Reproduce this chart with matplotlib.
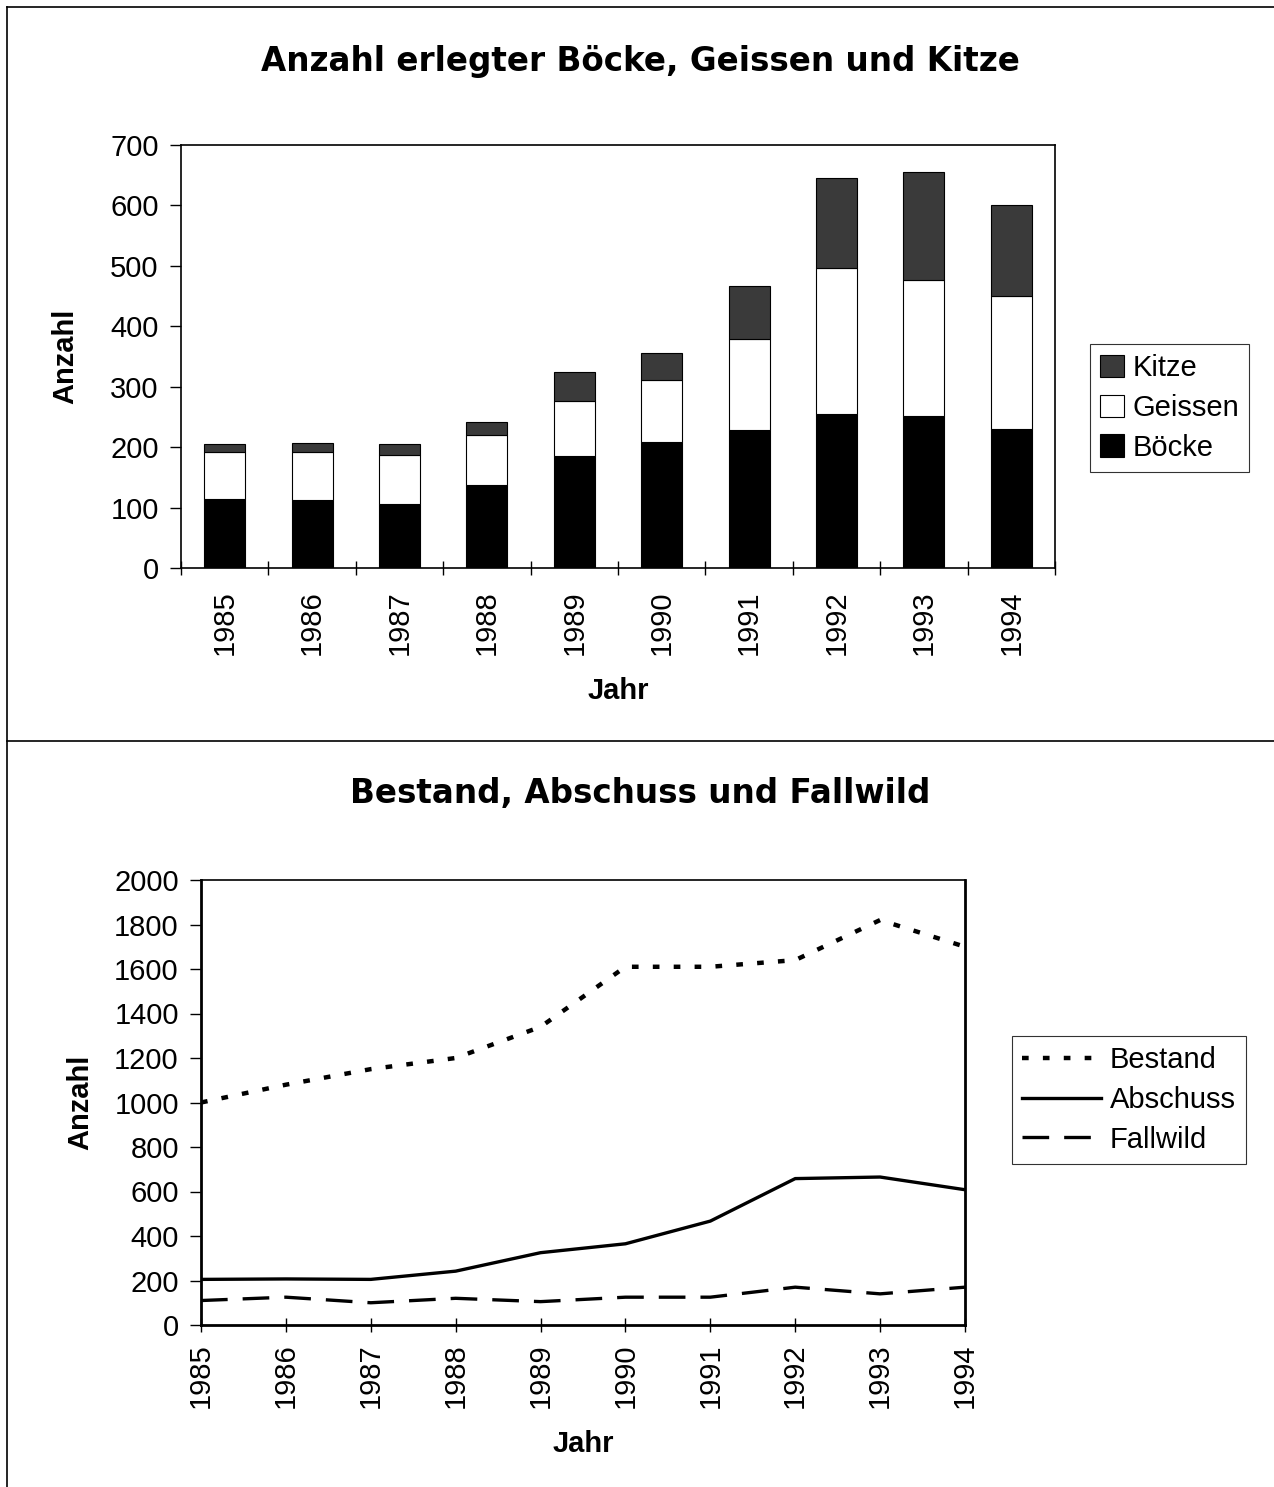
import matplotlib
matplotlib.use("Agg")
import matplotlib.pyplot as plt
import numpy as np
from matplotlib.lines import Line2D

plt.rcParams['font.family'] = ['Liberation Sans', 'DejaVu Sans']

years = ["1985", "1986", "1987", "1988", "1989", "1990", "1991", "1992", "1993", "1994"]
boecke = [115, 113, 106, 137, 185, 208, 228, 255, 252, 230]
geissen = [77, 79, 81, 83, 91, 103, 151, 242, 225, 220]
kitze = [13, 15, 18, 22, 48, 44, 88, 148, 179, 150]

bestand = [1000, 1080, 1150, 1200, 1340, 1610, 1610, 1640, 1820, 1700]
abschuss = [205, 207, 205, 242, 325, 365, 467, 658, 665, 608]
fallwild = [110, 125, 100, 120, 105, 125, 125, 170, 140, 170]

W, H = 1274, 1487
fig = plt.figure(figsize=(W / 100, H / 100), dpi=100)

def ax_rect(x0, y0, x1, y1):
    return [x0 / W, 1 - y1 / H, (x1 - x0) / W, (y1 - y0) / H]

TICK_FS = 21
LAB_FS = 21
TITLE_FS = 23.5

# frame lines
fig.add_artist(Line2D([7 / W, 7 / W], [0, 1 - 7 / H], color='black', lw=1.2))
fig.add_artist(Line2D([7 / W, 1], [1 - 7 / H, 1 - 7 / H], color='black', lw=1.2))
fig.add_artist(Line2D([7 / W, 1], [1 - 741 / H, 1 - 741 / H], color='black', lw=1.2))

# ---------- top chart ----------
ax1 = fig.add_axes(ax_rect(181, 145, 1055, 568))
x = np.arange(len(years))
bw = 0.47
b1 = ax1.bar(x, boecke, bw, color='black', edgecolor='black', lw=0.8, label='Böcke')
b2 = ax1.bar(x, geissen, bw, bottom=boecke, color='white', edgecolor='black', lw=0.8, label='Geissen')
bot2 = np.array(boecke) + np.array(geissen)
b3 = ax1.bar(x, kitze, bw, bottom=bot2, color='#3a3a3a', edgecolor='black', lw=0.8, label='Kitze')
ax1.set_xlim(-0.5, len(years) - 0.5)
ax1.set_ylim(0, 700)
ax1.set_yticks(range(0, 701, 100))
ax1.set_yticklabels([str(v) for v in range(0, 701, 100)], fontsize=TICK_FS)
ax1.set_xticks(x)
ax1.set_xticklabels(years, rotation=90, fontsize=TICK_FS)
ax1.set_xticks(np.arange(-0.5, len(years), 1), minor=True)
ax1.tick_params(axis='x', which='major', length=0, pad=16)
ax1.tick_params(axis='x', which='minor', direction='inout', length=10, width=1)
ax1.tick_params(axis='y', direction='out', length=8, width=1, pad=8)
for s in ax1.spines.values():
    s.set_linewidth(1.2)
ax1.set_ylabel('Anzahl', fontsize=LAB_FS, fontweight='bold', labelpad=22)
ax1.set_xlabel('Jahr', fontsize=LAB_FS, fontweight='bold', labelpad=16)
fig.text(640 / W, 1 - 62 / H, 'Anzahl erlegter Böcke, Geissen und Kitze', ha='center', va='center',
         fontsize=TITLE_FS, fontweight='bold', family=['DejaVu Sans'])
leg1 = ax1.legend(handles=[b3, b2, b1], labels=['Kitze', 'Geissen', 'Böcke'],
                  loc='center left', bbox_to_anchor=(1090 / W, 1 - 408 / H), bbox_transform=fig.transFigure,
                  borderaxespad=0, fontsize=TICK_FS, frameon=True, fancybox=False, edgecolor='black',
                  handlelength=0.8, handleheight=0.8, handletextpad=0.3, labelspacing=0.4, borderpad=0.35)
leg1.get_frame().set_linewidth(0.8)

# ---------- bottom chart ----------
ax2 = fig.add_axes(ax_rect(201, 880, 965, 1325))
ax2.plot(x, bestand, color='black', lw=3.2, linestyle=(0, (1.5, 3.2)), label='Bestand')
ax2.plot(x, abschuss, color='black', lw=2.4, linestyle='-', label='Abschuss')
ax2.plot(x, fallwild, color='black', lw=2.4, linestyle=(0, (8, 4.5)), label='Fallwild')
ax2.set_xlim(0, len(years) - 1)
ax2.set_ylim(0, 2000)
ax2.set_yticks(range(0, 2001, 200))
ax2.set_yticklabels([str(v) for v in range(0, 2001, 200)], fontsize=TICK_FS)
ax2.set_xticks(x)
ax2.set_xticklabels(years, rotation=90, fontsize=TICK_FS)
ax2.tick_params(axis='x', direction='inout', length=10, width=1, pad=8)
ax2.tick_params(axis='y', direction='out', length=8, width=1, pad=8)
for s in ax2.spines.values():
    s.set_linewidth(1.2)
ax2.spines['left'].set_linewidth(2.0)
ax2.spines['right'].set_linewidth(2.0)
ax2.spines['bottom'].set_linewidth(2.0)
ax2.set_ylabel('Anzahl', fontsize=LAB_FS, fontweight='bold', labelpad=14)
ax2.set_xlabel('Jahr', fontsize=LAB_FS, fontweight='bold', labelpad=16)
fig.text(640 / W, 1 - 793 / H, 'Bestand, Abschuss und Fallwild', ha='center', va='center',
         fontsize=TITLE_FS, fontweight='bold', family=['DejaVu Sans'])
leg2 = ax2.legend(loc='center left', bbox_to_anchor=(1012 / W, 1 - 1100 / H), bbox_transform=fig.transFigure,
                  borderaxespad=0, fontsize=TICK_FS, frameon=True, fancybox=False, edgecolor='black',
                  handlelength=2.7, handletextpad=0.3, labelspacing=0.4, borderpad=0.35)
leg2.get_frame().set_linewidth(0.8)

fig.savefig('out.png', dpi=100, facecolor='white')
